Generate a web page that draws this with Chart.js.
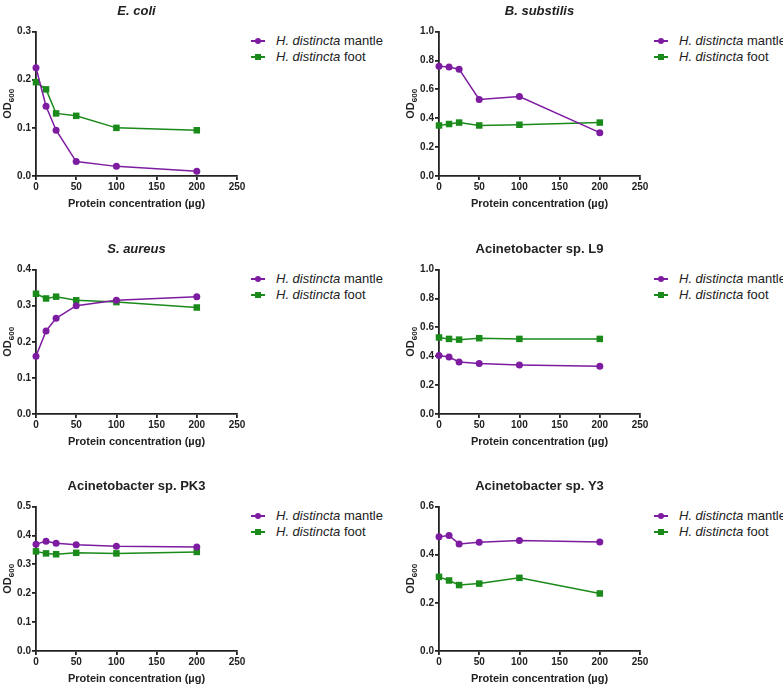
<!DOCTYPE html>
<html>
<head>
<meta charset="utf-8">
<script src="https://cdn.jsdelivr.net/npm/chart.js@4.4.1/dist/chart.umd.min.js"></script>
<style>
    body {
        margin: 0;
        background: #fff;
        width: 783px;
        height: 687px;
        position: relative;
        overflow: hidden;
        font-family: 'Liberation Sans', Arial, sans-serif;
    }
    canvas { position: absolute; }
    .legend { position: absolute; font-size: 13px; color: #222; }
    .legend div {
        position: relative;
        height: 16px;
        line-height: 16px;
        padding-left: 25px;
        white-space: nowrap;
    }
    .legend .mk { position: absolute; left: 0; top: 7px; width: 14px; height: 2px; }
    .legend .mk i { position: absolute; left: 4px; top: -2px; width: 6px; height: 6px; }
    .legend .mk i.dot { border-radius: 50%; }
</style>
</head>
<body>
<script>
// data
const concentrations = [0, 12.5, 25, 50, 100, 200]
const panelTitles = ['E. coli', 'B. substilis', 'S. aureus', 'Acinetobacter sp. L9', 'Acinetobacter sp. PK3', 'Acinetobacter sp. Y3']
const italicTitles = [true, true, true, false, false, false]

const ecoliMantle = [0.225, 0.145, 0.095, 0.03, 0.02, 0.01]
const ecoliFoot = [0.195, 0.18, 0.13, 0.125, 0.10, 0.095]
const bsubMantle = [0.76, 0.755, 0.74, 0.53, 0.55, 0.30]
const bsubFoot = [0.35, 0.36, 0.37, 0.35, 0.355, 0.37]
const saureusMantle = [0.16, 0.23, 0.265, 0.30, 0.315, 0.325]
const saureusFoot = [0.333, 0.32, 0.325, 0.315, 0.31, 0.295]
const l9Mantle = [0.405, 0.395, 0.36, 0.35, 0.34, 0.33]
const l9Foot = [0.53, 0.52, 0.515, 0.525, 0.52, 0.52]
const pk3Mantle = [0.37, 0.38, 0.373, 0.368, 0.363, 0.36]
const pk3Foot = [0.345, 0.338, 0.335, 0.34, 0.338, 0.343]
const y3Mantle = [0.475, 0.48, 0.445, 0.452, 0.459, 0.453]
const y3Foot = [0.308, 0.293, 0.274, 0.28, 0.304, 0.239]

const mantleSeries = [ecoliMantle, bsubMantle, saureusMantle, l9Mantle, pk3Mantle, y3Mantle]
const footSeries = [ecoliFoot, bsubFoot, saureusFoot, l9Foot, pk3Foot, y3Foot]
const yMax = [0.3, 1.0, 0.4, 1.0, 0.5, 0.6]
const yStep = [0.1, 0.2, 0.1, 0.2, 0.1, 0.2]
const xMax = 250
const xStep = 50

const mantleColor = '#7d1ba1'
const footColor = '#1a8a1a'
const ink = '#222'
const fontFamily = "'Liberation Sans', Arial, sans-serif"

// layout
const colLeft = [0, 403]
const rowTop = [0, 238, 475]

const points = (ys) => ys.map((y, i) => ({ x: concentrations[i], y }))

function addLegend(left, top) {
    const box = document.createElement('div')
    box.className = 'legend'
    box.style.left = left + 'px'
    box.style.top = top + 'px'
    box.innerHTML = `
        <div><span class="mk" style="background:${mantleColor}"><i class="dot" style="background:${mantleColor}"></i></span><em>H. distincta</em> mantle</div>
        <div><span class="mk" style="background:${footColor}"><i style="background:${footColor}"></i></span><em>H. distincta</em> foot</div>
    `
    document.body.appendChild(box)
}

function axisStyle() {
    return {
        grid: { drawOnChartArea: false, drawTicks: true, tickLength: 4, color: ink, lineWidth: 1.8 },
        border: { display: true, color: ink, width: 1.8 },
    }
}

// y axis title "OD600" with a real subscript
const odTitle = {
    id: 'odTitle',
    afterDraw(chart) {
        const { ctx, chartArea } = chart
        const cy = (chartArea.top + chartArea.bottom) / 2
        ctx.save()
        ctx.fillStyle = ink
        ctx.textBaseline = 'alphabetic'
        ctx.font = `bold 11px ${fontFamily}`
        const w1 = ctx.measureText('OD').width
        ctx.font = `bold 8px ${fontFamily}`
        const w2 = ctx.measureText('600').width
        ctx.translate(11, cy + (w1 + w2) / 2)
        ctx.rotate(-Math.PI / 2)
        ctx.font = `bold 11px ${fontFamily}`
        ctx.fillText('OD', 0, 0)
        ctx.font = `bold 8px ${fontFamily}`
        ctx.fillText('600', w1, 2.5)
        ctx.restore()
    },
}

panelTitles.forEach((title, i) => {
    const left = colLeft[i % 2]
    const top = rowTop[Math.floor(i / 2)]

    const canvas = document.createElement('canvas')
    canvas.width = 250
    canvas.height = 215
    canvas.style.left = left + 'px'
    canvas.style.top = top + 'px'
    document.body.appendChild(canvas)

    addLegend(left + 251, top + 33)

    new Chart(canvas.getContext('2d'), {
        type: 'line',
        data: {
            datasets: [
                {
                    label: 'H. distincta mantle',
                    data: points(mantleSeries[i]),
                    borderColor: mantleColor,
                    backgroundColor: mantleColor,
                    pointStyle: 'circle',
                    pointRadius: 3.5,
                },
                {
                    label: 'H. distincta foot',
                    data: points(footSeries[i]),
                    borderColor: footColor,
                    backgroundColor: footColor,
                    pointStyle: 'rect',
                    pointRadius: 4.6,
                },
            ],
        },
        options: {
            responsive: false,
            animation: false,
            devicePixelRatio: 1,
            layout: { padding: { top: 4, right: 13, left: 0, bottom: 0 } },
            elements: {
                line: { borderWidth: 1.5, tension: 0 },
                point: { borderWidth: 0 },
            },
            datasets: { line: { clip: false } },
            plugins: {
                legend: { display: false },
                tooltip: { enabled: false },
                title: {
                    display: true,
                    text: title,
                    fullSize: false,
                    color: ink,
                    font: { family: fontFamily, size: 13, weight: 'bold', style: italicTitles[i] ? 'italic' : 'normal' },
                    padding: { top: 0, bottom: 12 },
                },
            },
            scales: {
                x: {
                    type: 'linear',
                    min: 0,
                    max: xMax,
                    ...axisStyle(),
                    ticks: {
                        stepSize: xStep,
                        maxRotation: 0,
                        padding: 1,
                        color: ink,
                        font: { family: fontFamily, size: 10, weight: 'bold' },
                    },
                    title: {
                        display: true,
                        text: 'Protein concentration (µg)',
                        color: ink,
                        font: { family: fontFamily, size: 11, weight: 'bold' },
                        padding: { top: 0, bottom: 4 },
                    },
                    afterFit: (scale) => { scale.height = 39 },
                },
                y: {
                    min: 0,
                    max: yMax[i],
                    ...axisStyle(),
                    ticks: {
                        stepSize: yStep[i],
                        padding: 1,
                        color: ink,
                        font: { family: fontFamily, size: 10, weight: 'bold' },
                        callback: (v) => v.toFixed(1),
                    },
                    afterFit: (scale) => { scale.width = 36 },
                },
            },
        },
        plugins: [odTitle],
    })
})
</script>
</body>
</html>
